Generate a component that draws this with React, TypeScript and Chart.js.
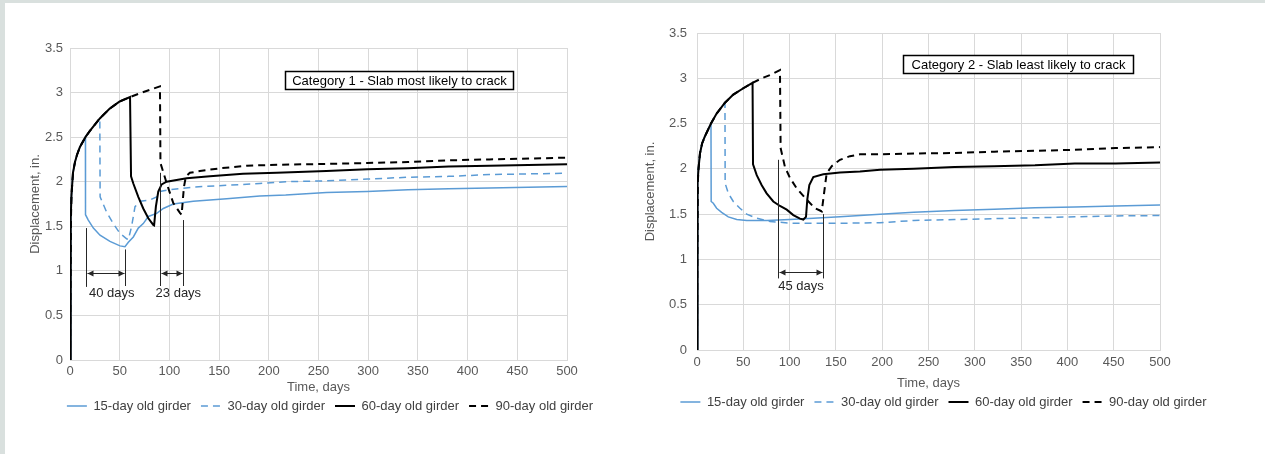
import React, { useEffect, useRef } from "react";
import { Chart, registerables } from "chart.js";

Chart.register(...registerables);
Chart.defaults.font.family = '"Liberation Sans", Arial, sans-serif';

type Pt = [number, number];

// ---------- shared axis / legend text ----------
const X_MIN = 0;
const X_MAX = 500;
const X_STEP = 50;
const Y_MIN = 0;
const Y_MAX = 3.5;
const Y_STEP = 0.5;
const X_TITLE = "Time, days";
const Y_TITLE = "Displacement, in.";
const SERIES_NAMES = ["15-day old girder", "30-day old girder", "60-day old girder", "90-day old girder"];

// ---------- Category 1 data (day, displacement in.) ----------
const cat1Rise: Pt[] = [
  [0, 0], [0.5, 0.9], [1, 1.6], [1.5, 1.85], [3, 2.1], [5, 2.22], [7, 2.3], [10, 2.39],
  [15.5, 2.5], [20, 2.57], [25, 2.64], [30, 2.71], [40, 2.82], [50, 2.9], [60.4, 2.95],
];
const cat1Tail15: Pt[] = [
  [15.6, 1.63], [18.4, 1.57], [23.5, 1.48], [30.2, 1.4], [40.2, 1.33], [50.3, 1.28], [55.3, 1.27],
  [58.7, 1.32], [63.7, 1.38], [68.7, 1.48], [73.7, 1.53], [78.8, 1.61], [87.2, 1.645], [93.9, 1.7],
  [103.9, 1.75], [124, 1.78], [157.6, 1.81], [191, 1.84], [217, 1.85], [258, 1.88], [299, 1.89],
  [340, 1.91], [381, 1.92], [422, 1.93], [500, 1.945],
];
const cat1Tail30: Pt[] = [
  [30.3, 1.83], [36.8, 1.66], [43.5, 1.53], [50.3, 1.42], [57, 1.36], [58.7, 1.35], [62, 1.5],
  [65.4, 1.72], [70.4, 1.78], [80.5, 1.795], [87.2, 1.83], [90.5, 1.89], [100.6, 1.91], [124, 1.94],
  [157.6, 1.96], [191, 1.98], [217, 2.0], [258, 2.01], [299, 2.03], [340, 2.05], [381, 2.06],
  [422, 2.08], [500, 2.095],
];
const cat1Tail60: Pt[] = [
  [61.4, 2.06], [63.7, 1.98], [68.7, 1.83], [73.7, 1.7], [78.8, 1.59], [83.8, 1.515], [84.6, 1.51],
  [86.4, 1.72], [88.8, 1.89], [92.2, 1.97], [97.2, 2.0], [117.3, 2.04], [140.8, 2.06], [174, 2.09],
  [208, 2.1], [258, 2.12], [299, 2.14], [340, 2.15], [381, 2.17], [422, 2.18], [500, 2.195],
];
const cat1Tail90: Pt[] = [
  [70, 2.99], [80, 3.03], [90.5, 3.07], [91, 2.21], [97.2, 1.985], [103.9, 1.76], [110.6, 1.65],
  [112.3, 1.63], [114.6, 1.94], [116.6, 2.06], [120.6, 2.1], [130.7, 2.12], [150.8, 2.15],
  [177.6, 2.18], [211, 2.19], [258, 2.2], [299, 2.21], [340, 2.22], [381, 2.24], [422, 2.25], [500, 2.27],
];
const cat1Drops = [15.5, 30, 60.4, 60.4];
const cat1Markers: [number, number, number][] = [
  [16.5, 1.48, 0.82], [55.3, 1.24, 0.83], [90.2, 2.1, 0.83], [113.3, 1.57, 0.83],
];
const cat1Spans: [number, number, number][] = [[16.5, 55.3, 0.98], [90.2, 113.3, 0.98]];
const cat1SpanLabels: [string, number, number][] = [["40 days", 42, 0.75], ["23 days", 109, 0.75]];
const cat1Title = "Category 1 - Slab most likely to crack";
const cat1Box = [216.3, 445.4, 3.04, 3.24];

// ---------- Category 2 data ----------
const cat2Rise: Pt[] = [
  [0, 0], [0.4, 1.1], [0.9, 1.85], [1.6, 2.0], [3.2, 2.17], [5.5, 2.28], [8.6, 2.36], [15.1, 2.5],
  [21.2, 2.61], [30.2, 2.73], [39.2, 2.82], [50, 2.89], [60, 2.95],
];
const cat2Tail15: Pt[] = [
  [15.3, 1.64], [17.6, 1.62], [21.2, 1.565], [26.6, 1.52], [33.8, 1.47], [42.9, 1.44], [53.7, 1.43],
  [75.2, 1.43], [100.4, 1.44], [125.6, 1.455], [154.4, 1.47], [197.6, 1.5], [234, 1.52], [278, 1.54],
  [321, 1.555], [365, 1.57], [408, 1.58], [452, 1.59], [500, 1.6],
];
const cat2Tail30: Pt[] = [
  [30.4, 1.84], [33.8, 1.73], [39.2, 1.64], [46.4, 1.565], [53.7, 1.5], [64.5, 1.455], [78.8, 1.42],
  [100.4, 1.4], [132.8, 1.4], [161.7, 1.4], [197.6, 1.405], [234, 1.43], [278, 1.44], [321, 1.45],
  [365, 1.46], [408, 1.47], [452, 1.48], [500, 1.485],
];
const cat2Tail60: Pt[] = [
  [60.5, 2.05], [64.5, 1.93], [69.9, 1.82], [75.2, 1.73], [82.4, 1.64], [89.6, 1.59], [96.9, 1.55],
  [104, 1.49], [111.2, 1.45], [114.8, 1.44], [117.7, 1.47], [119.1, 1.66], [121.3, 1.82], [125.6, 1.91],
  [136.4, 1.94], [154.4, 1.96], [176, 1.97], [197.6, 1.99], [234, 2.0], [278, 2.02], [321, 2.03],
  [365, 2.04], [408, 2.06], [452, 2.06], [500, 2.07],
];
const cat2Tail90: Pt[] = [
  [70, 3.0], [80, 3.04], [89.6, 3.09], [90.3, 2.23], [95, 2.02], [100.4, 1.9], [107.7, 1.785],
  [118.5, 1.66], [127.4, 1.565], [132.8, 1.54], [134.7, 1.53], [137.2, 1.73], [140, 1.95], [145.5, 2.03],
  [154.4, 2.1], [165.2, 2.14], [176, 2.16], [197.6, 2.16], [234, 2.17], [278, 2.175], [321, 2.19],
  [365, 2.2], [408, 2.21], [430, 2.22], [452, 2.23], [500, 2.24],
];
const cat2Drops = [15.1, 30.2, 60, 60];
const cat2Markers: [number, number, number][] = [[87.1, 2.1, 0.79], [135.7, 1.5, 0.79]];
const cat2Spans: [number, number, number][] = [[87.1, 135.7, 0.86]];
const cat2SpanLabels: [string, number, number][] = [["45 days", 112.3, 0.7]];
const cat2Title = "Category 2 - Slab least likely to crack";
const cat2Box = [222.8, 470.7, 3.055, 3.26];

// ---------- styles ----------
const BLUE = "#5B9BD5";
const BLACK = "#000000";
const GRID = "#D9D9D9";
const TICK = "#595959";
const LEGEND_TXT = "#404040";
const NOTE = "#262626";
const FONT_SIZE = 13;

type Layout = {
  left: number; top: number; w: number; h: number;
  padL: number; padTop: number; padBottom: number;
  yWidth: number; yTickPad: number; spacer: number;
  xTickPad: number; xHeight: number; xTitlePadBottom: number;
};

type PanelSpec = {
  rise: Pt[]; tails: Pt[][]; drops: number[];
  markers: [number, number, number][]; spans: [number, number, number][];
  spanLabels: [string, number, number][]; title: string; box: number[];
  layout: Layout;
};

const panels: PanelSpec[] = [
  {
    rise: cat1Rise, tails: [cat1Tail15, cat1Tail30, cat1Tail60, cat1Tail90], drops: cat1Drops,
    markers: cat1Markers, spans: cat1Spans, spanLabels: cat1SpanLabels, title: cat1Title, box: cat1Box,
    layout: {
      left: 5, top: 3, w: 633, h: 451, padL: 17, padTop: 45, padBottom: 31.5,
      yWidth: 48, yTickPad: 7, spacer: 71, xTickPad: 4, xHeight: 29.5, xTitlePadBottom: -5.3,
    },
  },
  {
    rise: cat2Rise, tails: [cat2Tail15, cat2Tail30, cat2Tail60, cat2Tail90], drops: cat2Drops,
    markers: cat2Markers, spans: cat2Spans, spanLabels: cat2SpanLabels, title: cat2Title, box: cat2Box,
    layout: {
      left: 632, top: 3, w: 618, h: 451, padL: 5, padTop: 30, padBottom: 35.5,
      yWidth: 60, yTickPad: 10, spacer: 90, xTickPad: 5, xHeight: 35.5, xTitlePadBottom: -5.6,
    },
  },
];

const seriesStyle = [
  { color: BLUE, dash: [] as number[], width: 1.5, order: 4 },
  { color: BLUE, dash: [7, 5], width: 1.5, order: 3 },
  { color: BLACK, dash: [] as number[], width: 2, order: 1 },
  { color: BLACK, dash: [7, 5], width: 2, order: 2 },
];

function notesPlugin(spec: PanelSpec) {
  return {
    id: "girderNotes",
    afterDatasetsDraw(chart: any) {
      const { ctx } = chart;
      const xs = chart.scales.x;
      const ys = chart.scales.y;
      const X = (v: number) => xs.getPixelForValue(v);
      const Y = (v: number) => ys.getPixelForValue(v);
      ctx.save();
      ctx.strokeStyle = NOTE;
      ctx.fillStyle = NOTE;
      ctx.lineWidth = 1;
      ctx.setLineDash([]);
      for (const [xv, yTop, yBot] of spec.markers) {
        const px = Math.round(X(xv)) + 0.5;
        ctx.beginPath();
        ctx.moveTo(px, Y(yTop));
        ctx.lineTo(px, Y(yBot));
        ctx.stroke();
      }
      for (const [x1, x2, yv] of spec.spans) {
        const a = Math.round(X(x1)) + 1.5;
        const b = Math.round(X(x2)) - 0.5;
        const py = Math.round(Y(yv)) + 0.5;
        ctx.beginPath();
        ctx.moveTo(a, py);
        ctx.lineTo(b, py);
        ctx.stroke();
        ctx.beginPath();
        ctx.moveTo(a, py);
        ctx.lineTo(a + 6, py - 3);
        ctx.lineTo(a + 6, py + 3);
        ctx.closePath();
        ctx.fill();
        ctx.beginPath();
        ctx.moveTo(b, py);
        ctx.lineTo(b - 6, py - 3);
        ctx.lineTo(b - 6, py + 3);
        ctx.closePath();
        ctx.fill();
      }
      ctx.font = `${FONT_SIZE}px "Liberation Sans", Arial, sans-serif`;
      ctx.textAlign = "center";
      ctx.textBaseline = "middle";
      for (const [txt, xv, yv] of spec.spanLabels) {
        ctx.fillText(txt, X(xv), Y(yv));
      }
      const [bx1, bx2, by1, by2] = spec.box;
      const l = Math.round(X(bx1)) + 0.5;
      const r = Math.round(X(bx2)) + 0.5;
      const t = Math.round(Y(by2)) + 0.5;
      const btm = Math.round(Y(by1)) + 0.5;
      ctx.fillStyle = "#FFFFFF";
      ctx.fillRect(l, t, r - l, btm - t);
      ctx.strokeStyle = BLACK;
      ctx.lineWidth = 1.5;
      ctx.strokeRect(l, t, r - l, btm - t);
      ctx.fillStyle = BLACK;
      ctx.fillText(spec.title, (l + r) / 2, (t + btm) / 2 + 0.5);
      ctx.restore();
    },
  };
}

function buildConfig(spec: PanelSpec): any {
  const L = spec.layout;
  const datasets = SERIES_NAMES.map((name, i) => {
    const st = seriesStyle[i];
    const pts = [...spec.rise.filter((p) => p[0] <= spec.drops[i]), ...spec.tails[i]];
    return {
      label: name,
      data: pts.map(([x, y]) => ({ x, y })),
      borderColor: st.color,
      backgroundColor: st.color,
      borderWidth: st.width,
      borderDash: st.dash,
      pointRadius: 0,
      pointHoverRadius: 0,
      fill: false,
      tension: 0,
      order: st.order,
    };
  });
  const tickFont = { size: FONT_SIZE };
  const plain = (v: any) => String(v);
  return {
    type: "line",
    data: { datasets },
    plugins: [notesPlugin(spec)],
    options: {
      animation: false,
      responsive: false,
      devicePixelRatio: 1,
      events: [],
      layout: { padding: { left: L.padL, right: 0, top: L.padTop, bottom: L.padBottom } },
      scales: {
        x: {
          type: "linear",
          min: X_MIN,
          max: X_MAX,
          ticks: { stepSize: X_STEP, color: TICK, font: tickFont, padding: L.xTickPad, maxRotation: 0, autoSkip: false, callback: plain },
          grid: { color: GRID, lineWidth: 1, drawTicks: false },
          border: { color: GRID, width: 1 },
          title: {
            display: true,
            text: X_TITLE,
            color: TICK,
            font: tickFont,
            padding: { top: 0, bottom: L.xTitlePadBottom },
          },
          afterFit: (s: any) => { s.height = L.xHeight; },
        },
        y: {
          type: "linear",
          position: "left",
          min: Y_MIN,
          max: Y_MAX,
          ticks: { stepSize: Y_STEP, color: TICK, font: tickFont, padding: L.yTickPad, callback: plain },
          grid: { color: GRID, lineWidth: 1, drawTicks: false },
          border: { color: GRID, width: 1 },
          title: {
            display: true,
            text: Y_TITLE,
            color: TICK,
            font: tickFont,
            padding: { top: 6, bottom: 0 },
          },
          afterFit: (s: any) => { s.width = L.yWidth; },
        },
        yR: {
          type: "linear",
          position: "right",
          display: true,
          ticks: { display: false },
          grid: { display: false, drawTicks: false },
          border: { display: false },
          afterFit: (s: any) => { s.width = L.spacer; },
        },
      },
      plugins: {
        tooltip: { enabled: false },
        legend: {
          position: "bottom",
          labels: {
            usePointStyle: true,
            pointStyle: "line",
            pointStyleWidth: 20,
            padding: 10,
            color: LEGEND_TXT,
            font: { size: FONT_SIZE },
            sort: (a: any, b: any) => a.datasetIndex - b.datasetIndex,
            generateLabels: (chart: any) => {
              const items = Chart.defaults.plugins.legend.labels.generateLabels(chart);
              items.forEach((it: any) => {
                const ds = chart.data.datasets[it.datasetIndex];
                it.lineDash = ds.borderDash;
                it.strokeStyle = ds.borderColor;
                it.lineWidth = ds.borderWidth;
                it.pointStyle = "line";
              });
              return items;
            },
          },
        },
      },
    },
  };
}

function Panel({ spec }: { spec: PanelSpec }) {
  const ref = useRef<HTMLCanvasElement>(null);
  useEffect(() => {
    if (!ref.current) return;
    const chart = new Chart(ref.current, buildConfig(spec));
    return () => chart.destroy();
  }, [spec]);
  const L = spec.layout;
  return (
    <canvas
      ref={ref}
      width={L.w}
      height={L.h}
      style={{ position: "absolute", left: L.left, top: L.top, width: L.w, height: L.h }}
    />
  );
}

export default function App() {
  return (
    <div
      style={{
        position: "fixed",
        left: 0,
        top: 0,
        width: 1265,
        height: 454,
        background: "#D9E0DE",
        overflow: "hidden",
      }}
    >
      <div style={{ position: "absolute", left: 5, top: 3, right: 0, bottom: 0, background: "#FFFFFF" }} />
      {panels.map((p, i) => (
        <Panel key={i} spec={p} />
      ))}
    </div>
  );
}
